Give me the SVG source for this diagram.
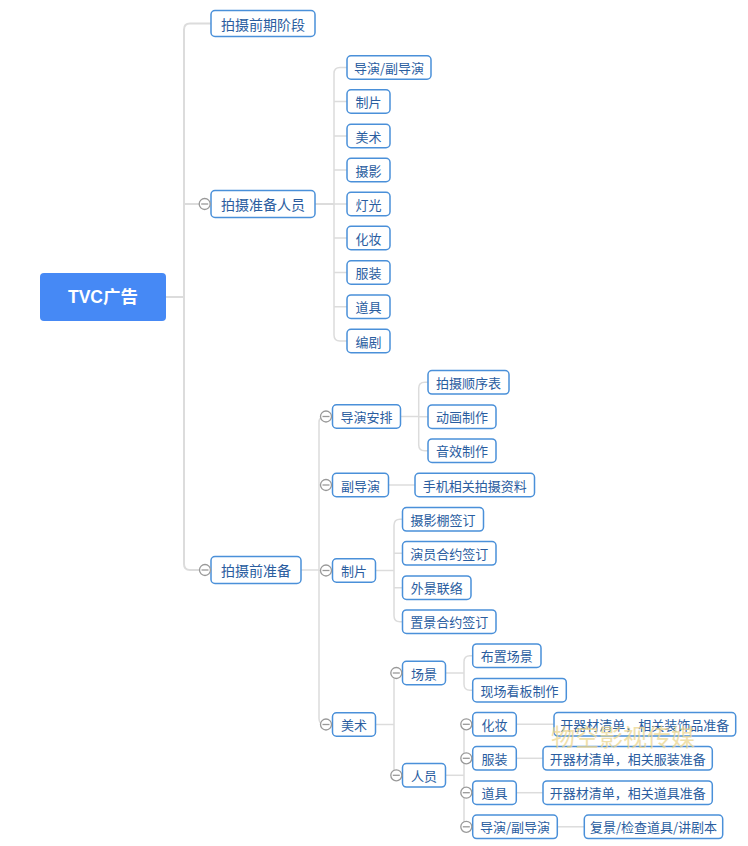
<svg xmlns="http://www.w3.org/2000/svg" width="748" height="846" viewBox="0 0 748 846">
<style>
.bg{fill:#ffffff}
.n rect{fill:#ffffff;stroke:#4a90d9;stroke-width:1.5}
.n text{font-family:"Noto Sans CJK SC","Liberation Sans",sans-serif;fill:#2a5d9f;text-anchor:middle;dominant-baseline:central}
.l1 text{font-size:14px}
.l2 text{font-size:13px}
.root rect{fill:#4689f5;stroke:none}
.root text{font-family:"Liberation Sans","Noto Sans CJK SC",sans-serif;font-size:17.5px;font-weight:bold;fill:#ffffff;text-anchor:middle;dominant-baseline:central}
.c path{fill:none;stroke:#dcdcdc;stroke-width:1.5}
.c .t{stroke-width:2}
.wm{font-family:"Noto Sans CJK SC",sans-serif;font-size:24px;fill:#ecd68f;opacity:0.75;text-anchor:middle}
</style>
<defs>
<g id="col"><circle r="5.5" fill="#ffffff" stroke="#999999" stroke-width="1.3"/><path d="M-3.5,0 H3.5" stroke="#999999" stroke-width="1.3"/></g>
</defs>
<rect class="bg" width="748" height="846"/>

<g id="connectors" class="c">
<path class="t" d="M166,297 H184"/>
<path class="t" d="M211,23.5 H190 Q184,23.5 184,29.5 V564 Q184,570 190,570 H211"/>
<path class="t" d="M184,204 H211"/>
<path class="t" d="M315,204 H334"/>
<path d="M347,67.5 H340 Q334,67.5 334,73.5 V335 Q334,341 340,341 H347"/>
<path d="M334,101.5 H347 M334,136 H347 M334,170 H347 M334,204 H347 M334,238 H347 M334,272.5 H347 M334,306.7 H347"/>
<path d="M301,570 H319"/>
<path d="M332,416.5 H325 Q319,416.5 319,422.5 V718.5 Q319,724.5 325,724.5 H332"/>
<path d="M319,485 H332 M319,570.5 H332"/>
<path d="M400.7,416.5 H418.7"/>
<path d="M428,382.3 H424.7 Q418.7,382.3 418.7,388.3 V444.7 Q418.7,450.7 424.7,450.7 H428"/>
<path d="M418.7,416.7 H428"/>
<path d="M388.5,485 H415"/>
<path d="M375.7,570.5 H394"/>
<path d="M402.5,519.3 H400 Q394,519.3 394,525.3 V615.7 Q394,621.7 400,621.7 H402.5"/>
<path d="M394,553.3 H402.5 M394,587.7 H402.5"/>
<path d="M375.7,724.5 H394"/>
<path d="M402,673 H400 Q394,673 394,679 V769.3 Q394,775.3 400,775.3 H402"/>
<path d="M445.7,673 H464"/>
<path d="M472.7,655.7 H470 Q464,655.7 464,661.7 V684.2 Q464,690.2 470,690.2 H472.7"/>
<path d="M445.7,775.3 H464"/>
<path d="M472,724.3 H470 Q464,724.3 464,730.3 V820.8 Q464,826.8 470,826.8 H472"/>
<path d="M464,758.3 H472 M464,792.7 H472"/>
<path d="M516.3,724.3 H554"/>
<path d="M516.3,758.3 H543"/>
<path d="M516.3,792.7 H543"/>
<path d="M557.3,826.8 H584.3"/>
</g>

<g id="root" class="root"><rect x="40" y="273" width="126" height="48" rx="4"/><text x="103" y="297">TVC广告</text></g>

<g id="n-qianqi" class="n l1"><rect x="211" y="10.5" width="104" height="26" rx="4"/><text x="263" y="23.5">拍摄前期阶段</text></g>
<g id="n-renyuan" class="n l1"><rect x="211" y="190.5" width="104" height="27" rx="4"/><text x="263" y="204">拍摄准备人员</text></g>
<g id="n-zhunbei" class="n l1"><rect x="211" y="556.5" width="90" height="27" rx="4"/><text x="256" y="570">拍摄前准备</text></g>

<g id="n-r1" class="n l2"><rect x="347" y="55.75" width="84" height="23.5" rx="4"/><text x="389" y="67.5">导演/副导演</text></g>
<g id="n-r2" class="n l2"><rect x="347" y="89.75" width="43" height="23.5" rx="4"/><text x="368.5" y="101.5">制片</text></g>
<g id="n-r3" class="n l2"><rect x="347" y="124.25" width="43" height="23.5" rx="4"/><text x="368.5" y="136">美术</text></g>
<g id="n-r4" class="n l2"><rect x="347" y="158.25" width="43" height="23.5" rx="4"/><text x="368.5" y="170">摄影</text></g>
<g id="n-r5" class="n l2"><rect x="347" y="192.25" width="43" height="23.5" rx="4"/><text x="368.5" y="204">灯光</text></g>
<g id="n-r6" class="n l2"><rect x="347" y="226.25" width="43" height="23.5" rx="4"/><text x="368.5" y="238">化妆</text></g>
<g id="n-r7" class="n l2"><rect x="347" y="260.75" width="43" height="23.5" rx="4"/><text x="368.5" y="272.5">服装</text></g>
<g id="n-r8" class="n l2"><rect x="347" y="294.95" width="43" height="23.5" rx="4"/><text x="368.5" y="306.7">道具</text></g>
<g id="n-r9" class="n l2"><rect x="347" y="329.25" width="43" height="23.5" rx="4"/><text x="368.5" y="341">编剧</text></g>

<g id="n-daoyan" class="n l2"><rect x="332.5" y="404.75" width="68" height="23.5" rx="4"/><text x="366.5" y="416.5">导演安排</text></g>
<g id="n-shunxu" class="n l2"><rect x="428" y="370.55" width="81" height="23.5" rx="4"/><text x="468.5" y="382.3">拍摄顺序表</text></g>
<g id="n-donghua" class="n l2"><rect x="428" y="404.95" width="68" height="23.5" rx="4"/><text x="462" y="416.7">动画制作</text></g>
<g id="n-yinxiao" class="n l2"><rect x="428" y="438.95" width="68" height="23.5" rx="4"/><text x="462" y="450.7">音效制作</text></g>
<g id="n-fudao" class="n l2"><rect x="332.5" y="473.25" width="56" height="23.5" rx="4"/><text x="360.5" y="485">副导演</text></g>
<g id="n-shouji" class="n l2"><rect x="415" y="473.25" width="119.5" height="23.5" rx="4"/><text x="474.75" y="485">手机相关拍摄资料</text></g>
<g id="n-zhipian" class="n l2"><rect x="332.5" y="558.75" width="43" height="23.5" rx="4"/><text x="354" y="570.5">制片</text></g>
<g id="n-peng" class="n l2"><rect x="402.5" y="507.55" width="81" height="23.5" rx="4"/><text x="443" y="519.3">摄影棚签订</text></g>
<g id="n-yanyuan" class="n l2"><rect x="402.5" y="541.55" width="93.5" height="23.5" rx="4"/><text x="449.25" y="553.3">演员合约签订</text></g>
<g id="n-waijing" class="n l2"><rect x="402.5" y="575.95" width="68.5" height="23.5" rx="4"/><text x="436.75" y="587.7">外景联络</text></g>
<g id="n-zhijing" class="n l2"><rect x="402.5" y="609.95" width="93.5" height="23.5" rx="4"/><text x="449.25" y="621.7">置景合约签订</text></g>
<g id="n-meishu" class="n l2"><rect x="332.5" y="712.75" width="43" height="23.5" rx="4"/><text x="354" y="724.5">美术</text></g>
<g id="n-changjing" class="n l2"><rect x="402.5" y="661.25" width="43" height="23.5" rx="4"/><text x="424" y="673">场景</text></g>
<g id="n-renyuan2" class="n l2"><rect x="402.5" y="763.55" width="43" height="23.5" rx="4"/><text x="424" y="775.3">人员</text></g>
<g id="n-buzhi" class="n l2"><rect x="472.7" y="643.95" width="68.3" height="23.5" rx="4"/><text x="506.85" y="655.7">布置场景</text></g>
<g id="n-kanban" class="n l2"><rect x="472.7" y="678.45" width="93.6" height="23.5" rx="4"/><text x="519.5" y="690.2">现场看板制作</text></g>
<g id="n-huazhuang" class="n l2"><rect x="472.7" y="712.55" width="43.6" height="23.5" rx="4"/><text x="494.5" y="724.3">化妆</text></g>
<g id="n-fuzhuang" class="n l2"><rect x="472.7" y="746.55" width="43.6" height="23.5" rx="4"/><text x="494.5" y="758.3">服装</text></g>
<g id="n-daoju" class="n l2"><rect x="472.7" y="780.95" width="43.6" height="23.5" rx="4"/><text x="494.5" y="792.7">道具</text></g>
<g id="n-daoyan2" class="n l2"><rect x="472.7" y="815.05" width="84.6" height="23.5" rx="4"/><text x="515" y="826.8">导演/副导演</text></g>
<g id="n-qc1" class="n l2"><rect x="554" y="712.55" width="181.7" height="23.5" rx="4"/><text x="644.85" y="724.3">开器材清单，相关装饰品准备</text></g>
<g id="n-qc2" class="n l2"><rect x="543" y="746.55" width="169.3" height="23.5" rx="4"/><text x="627.65" y="758.3">开器材清单，相关服装准备</text></g>
<g id="n-qc3" class="n l2"><rect x="543" y="780.95" width="169.3" height="23.5" rx="4"/><text x="627.65" y="792.7">开器材清单，相关道具准备</text></g>
<g id="n-fujing" class="n l2"><rect x="584.3" y="815.05" width="138.4" height="23.5" rx="4"/><text x="653.5" y="826.8">复景/检查道具/讲剧本</text></g>

<g id="collapse">
<use href="#col" x="204.7" y="204"/>
<use href="#col" x="205" y="570"/>
<use href="#col" x="326" y="416.5"/>
<use href="#col" x="326" y="485"/>
<use href="#col" x="326" y="570.5"/>
<use href="#col" x="326" y="724.5"/>
<use href="#col" x="396.3" y="673"/>
<use href="#col" x="396.3" y="775.3"/>
<use href="#col" x="466.3" y="724.3"/>
<use href="#col" x="466.3" y="758.3"/>
<use href="#col" x="466.3" y="792.7"/>
<use href="#col" x="466.3" y="826.8"/>
</g>

<text class="wm" x="623" y="746">物空影视传媒</text>
</svg>
